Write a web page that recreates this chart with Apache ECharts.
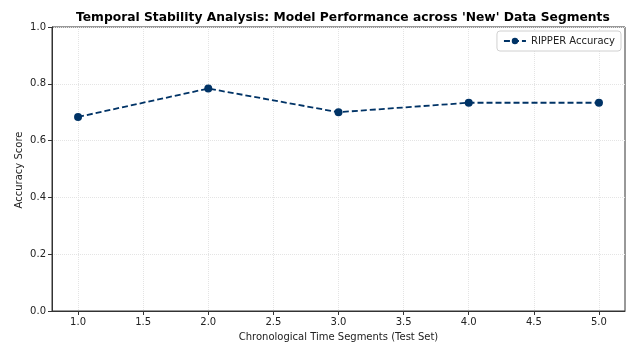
<!DOCTYPE html>
<html><head><meta charset="utf-8">
<script src="https://cdn.jsdelivr.net/npm/echarts@6/dist/echarts.min.js"></script>
<style>html,body{margin:0;padding:0;background:#fff}#c{width:631px;height:347px}</style>
</head><body><div id="c"></div>
<script>
const segments = [1, 2, 3, 4, 5];
const accuracy = [0.6833, 0.7833, 0.7, 0.7333, 0.7333];
const xTicks = [1.0, 1.5, 2.0, 2.5, 3.0, 3.5, 4.0, 4.5, 5.0];
const seriesName = 'RIPPER Accuracy';
const yTitle = 'Accuracy Score';
const color = '#003366';
const font = 'DejaVu Sans';
const chart = echarts.init(document.getElementById('c'));
chart.setOption({
  animation: false,
  title: {text: "Temporal Stability Analysis: Model Performance across 'New' Data Segments", left: 71, top: 7,
    textStyle: {fontFamily: font, fontSize: 12.3, fontWeight: 'bold', color: '#000'}},
  legend: {right: 10, top: 31, data: [seriesName], itemWidth: 22, itemHeight: 8, padding: [5, 6],
    borderColor: '#d0d0d0', borderWidth: 1, borderRadius: 3, backgroundColor: '#fff',
    textStyle: {fontFamily: font, fontSize: 10, color: '#222'}},
  graphic: [{type: 'text', x: 19, y: 170, rotation: Math.PI / 2,
    style: {text: yTitle, fontFamily: font, fontSize: 10, fill: '#222', align: 'center', verticalAlign: 'middle'}}],
  grid: {left: 52, right: 6, top: 27, bottom: 34, show: true, borderColor: '#333', borderWidth: 1},
  xAxis: {type: 'value', min: 0.8, max: 5.2,
    name: 'Chronological Time Segments (Test Set)', nameLocation: 'middle', nameGap: 21,
    nameTextStyle: {fontFamily: font, fontSize: 10, color: '#222'},
    axisLine: {show: true, lineStyle: {color: '#333'}},
    axisTick: {show: true, customValues: xTicks, length: 4, lineStyle: {color: '#333'}},
    axisLabel: {customValues: xTicks, fontFamily: font, fontSize: 10, color: '#222', margin: 6,
      formatter: v => v.toFixed(1)},
    splitLine: {show: true, customValues: xTicks, lineStyle: {color: '#e4e4e4', type: 'dotted'}}},
  yAxis: {type: 'value', min: 0, max: 1, interval: 0.2,
    axisLine: {show: true, lineStyle: {color: '#333'}},
    axisTick: {show: true, length: 4, lineStyle: {color: '#333'}},
    axisLabel: {fontFamily: font, fontSize: 10, color: '#222', margin: 6, formatter: v => v.toFixed(1)},
    splitLine: {show: true, lineStyle: {color: '#e4e4e4', type: 'dotted'}}},
  series: [{name: seriesName, type: 'line', data: segments.map((s, i) => [s, accuracy[i]]),
    symbol: 'circle', symbolSize: 8, itemStyle: {color: color},
    lineStyle: {color: color, width: 1.8, type: [6, 3]}}]
});
</script></body></html>
